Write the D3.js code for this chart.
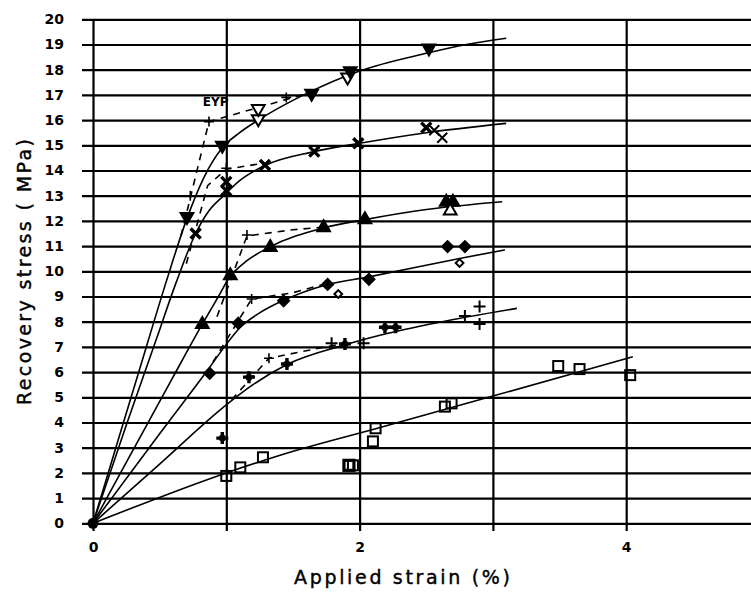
<!DOCTYPE html>
<html>
<head>
<meta charset="utf-8">
<script src="https://cdn.jsdelivr.net/npm/d3@7"></script>
<style>
  body { margin: 0; background: #fff; }
  svg { display: block; }
  .tick text { font-family: "DejaVu Sans", sans-serif; font-weight: bold; font-size: 14px; fill: #000; }
  .title { font-family: "DejaVu Sans", sans-serif; font-size: 19px; fill: #000; stroke: #000; stroke-width: 0.4; }
</style>
</head>
<body>
<div id="chart"></div>
<script>
// strain (%) / stress (MPa)
const yTicks = d3.range(0, 21);
const xTicks = [0, 1, 2, 3, 4];
const xLabels = [0, 2, 4];

// fitted solid curves, one per specimen series
const curveTriDown = [[0,0],[0.2,3.5],[0.4,7.0],[0.55,9.6],[0.705,12.1],[0.83,13.7],[0.97,14.9],[1.1,15.5],[1.24,16.0],[1.6,17.05],[2.0,17.95],[2.5,18.65],[2.8,19.0],[3.1,19.25]];
const curveCross = [[0,0],[0.25,3.9],[0.475,7.3],[0.62,9.5],[0.77,11.5],[0.87,12.4],[0.98,13.0],[1.1,13.6],[1.29,14.2],[1.66,14.75],[2.0,15.08],[2.5,15.5],[3.1,15.87]];
const curveTriUp = [[0,0],[0.3,2.9],[0.6,5.8],[0.82,7.9],[0.93,8.9],[1.03,9.8],[1.15,10.4],[1.32,10.95],[1.73,11.72],[2.04,12.05],[2.5,12.45],[3.07,12.76]];
const curveDiamond = [[0,0],[0.5,3.55],[0.87,6.15],[1.0,7.1],[1.1,7.75],[1.25,8.35],[1.43,8.85],[1.74,9.45],[2.07,9.78],[2.76,10.52],[3.09,10.85]];
const curvePlus = [[0,0],[0.5,2.35],[1.0,4.7],[1.2,5.5],[1.455,6.3],[1.89,7.08],[2.16,7.47],[2.58,7.96],[3.18,8.53]];
const curveSquare = [[0,0],[1.0,2.0],[1.41,2.71],[2.14,3.78],[3.0,5.05],[4.05,6.61]];

// dashed EYP lines
const dashTriDown = [[0.66,11.4],[0.87,15.94],[1.24,16.5],[1.6,17.05]];
const dashCross = [[0.7,10.3],[0.86,13.4],[1.0,14.05],[1.29,14.3]];
const dashTriUp = [[0.93,8.2],[1.155,11.4],[1.5,11.65],[1.73,11.75]];
const dashDiamond = [[0.9,6.4],[1.19,8.9],[1.5,9.15],[1.74,9.5]];
const dashPlus = [[1.04,4.9],[1.32,6.55],[1.6,6.85],[1.85,7.1]];
const eypMarks = [[0.87,15.94],[1.0,14.09],[1.155,11.44],[1.19,8.9],[1.32,6.55],[0.73,13.0],[1.45,16.9]];

// measured points: [strain, stress, filled]
const ptsTriDown = [[0.705,12.17,1],[0.97,15.0,1],[1.24,16.05,0],[1.24,16.45,0],[1.64,17.06,1],[1.91,17.7,0],[1.93,17.95,1],[2.52,18.85,1]];
const ptsCross = [[0.77,11.5,1],[1.0,13.2,1],[1.0,13.55,1],[1.29,14.22,1],[1.66,14.75,1],[1.99,15.08,1],[2.5,15.7,1],[2.56,15.6,0],[2.62,15.3,0]];
const ptsTriUp = [[0.82,7.9,1],[1.03,9.83,1],[1.33,10.95,1],[1.73,11.73,1],[2.04,12.05,1],[2.65,12.75,1],[2.7,12.75,1],[2.68,12.4,0]];
const ptsDiamond = [[0.875,5.95,1],[1.09,7.94,1],[1.43,8.83,1],[1.76,9.48,1],[1.84,9.1,0],[2.07,9.68,1],[2.66,10.98,1],[2.79,10.98,1],[2.75,10.33,0]];
const ptsPlus = [[0.97,3.38,1],[1.17,5.8,1],[1.455,6.32,1],[1.79,7.14,0],[1.89,7.12,1],[2.03,7.14,0],[2.19,7.78,1],[2.27,7.78,1],[2.79,8.23,0],[2.9,8.6,0],[2.9,7.91,0]];
const ptsSquare = [[1.0,1.88,0],[1.105,2.22,0],[1.275,2.62,0],[1.92,2.3,1],[1.95,2.3,0],[2.12,3.77,0],[2.1,3.25,0],[2.64,4.63,0],[2.69,4.76,0],[3.49,6.24,0],[3.65,6.12,0],[4.03,5.88,0]];

const width = 751, height = 592;

const svg = d3.select("#chart").append("svg")
  .attr("width", width)
  .attr("height", height);

var x = d3.scaleLinear().domain([0, 5]).range([93, 759.5]);
var y = d3.scaleLinear().domain([0, 20]).range([523.3, 19.3]);

// horizontal grid + y labels
var yAxis = svg.append("g")
  .attr("transform", "translate(82,0)")
  .call(d3.axisLeft(y).tickValues(yTicks).tickSize(-(width - 82)).tickPadding(18).tickFormat(d3.format("d")));
yAxis.select(".domain").remove();
yAxis.selectAll(".tick line").attr("stroke", "#000").attr("stroke-width", 2.2);

// vertical grid + x labels
var xAxis = svg.append("g")
  .attr("transform", "translate(0,531)")
  .call(d3.axisBottom(x).tickValues(xTicks).tickSize(-(531 - 19)).tickPadding(11)
    .tickFormat(d => xLabels.includes(d) ? d : ""));
xAxis.select(".domain").remove();
xAxis.selectAll(".tick line").attr("stroke", "#000").attr("stroke-width", 2.2);

// titles
svg.append("text").attr("class", "title")
  .attr("transform", "translate(31,272) rotate(-90)")
  .attr("text-anchor", "middle")
  .attr("textLength", 266).attr("lengthAdjust", "spacing")
  .text("Recovery stress ( MPa)");
svg.append("text").attr("class", "title")
  .attr("x", 402).attr("y", 584)
  .attr("text-anchor", "middle")
  .attr("textLength", 216).attr("lengthAdjust", "spacing")
  .text("Applied strain (%)");

// curves
var smooth = d3.line().x(d => x(d[0])).y(d => y(d[1])).curve(d3.curveMonotoneX);
var straight = d3.line().x(d => x(d[0])).y(d => y(d[1]));

[curveTriDown, curveCross, curveTriUp, curveDiamond, curvePlus, curveSquare].forEach(function(c) {
  svg.append("path").attr("d", smooth(c))
    .attr("fill", "none").attr("stroke", "#000").attr("stroke-width", 1.6);
});
[dashTriDown, dashCross, dashTriUp, dashDiamond, dashPlus].forEach(function(c) {
  svg.append("path").attr("d", straight(c))
    .attr("fill", "none").attr("stroke", "#000").attr("stroke-width", 1.6)
    .attr("stroke-dasharray", "7,6");
});

svg.selectAll(".eyp").data(eypMarks).enter().append("path")
  .attr("class", "eyp")
  .attr("transform", d => "translate(" + x(d[0]) + "," + y(d[1]) + ")")
  .attr("d", "M-5,0H5M0,-5V5")
  .attr("stroke", "#000").attr("stroke-width", 1.6);

svg.append("text")
  .attr("x", x(0.92)).attr("y", y(16.55))
  .attr("text-anchor", "middle")
  .style("font-family", "DejaVu Sans, sans-serif").style("font-weight", "bold").style("font-size", "12px")
  .text("EYP");

// markers
function place(d) { return "translate(" + x(d[0]) + "," + y(d[1]) + ")"; }

svg.selectAll(".tdown").data(ptsTriDown).enter().append("path")
  .attr("transform", d => place(d) + " rotate(180)")
  .attr("d", d3.symbol().type(d3.symbolTriangle).size(70))
  .attr("fill", d => d[2] ? "#000" : "#fff").attr("stroke", "#000").attr("stroke-width", 2);

svg.selectAll(".tup").data(ptsTriUp).enter().append("path")
  .attr("transform", place)
  .attr("d", d3.symbol().type(d3.symbolTriangle).size(70))
  .attr("fill", d => d[2] ? "#000" : "#fff").attr("stroke", "#000").attr("stroke-width", 2);

svg.selectAll(".dia").data(ptsDiamond).enter().append("path")
  .attr("transform", d => place(d) + " rotate(45)")
  .attr("d", d => d3.symbol().type(d3.symbolSquare).size(d[2] ? 60 : 30)())
  .attr("fill", d => d[2] ? "#000" : "#fff").attr("stroke", "#000").attr("stroke-width", 2);

svg.selectAll(".xx").data(ptsCross).enter().append("path")
  .attr("transform", place)
  .attr("d", "M-5,-5L5,5M-5,5L5,-5")
  .attr("fill", "none").attr("stroke", "#000").attr("stroke-width", d => d[2] ? 3.4 : 2);

svg.selectAll(".pl").data(ptsPlus).enter().append("path")
  .attr("transform", place)
  .attr("d", "M-6,0H6M0,-6V6")
  .attr("fill", "none").attr("stroke", "#000").attr("stroke-width", d => d[2] ? 3.4 : 2);
svg.selectAll(".pldot").data(ptsPlus.filter(d => d[2])).enter().append("circle")
  .attr("cx", d => x(d[0])).attr("cy", d => y(d[1])).attr("r", 3.5).attr("fill", "#000");

svg.selectAll(".sq").data(ptsSquare).enter().append("rect")
  .attr("x", d => x(d[0]) - 5).attr("y", d => y(d[1]) - 5)
  .attr("width", 10).attr("height", 10)
  .attr("fill", "none").attr("stroke", "#000").attr("stroke-width", d => d[2] ? 3.2 : 2);

// all series start together at the origin
svg.append("circle").attr("cx", x(0)).attr("cy", y(0)).attr("r", 5.5).attr("fill", "#000");
</script>
</body>
</html>
